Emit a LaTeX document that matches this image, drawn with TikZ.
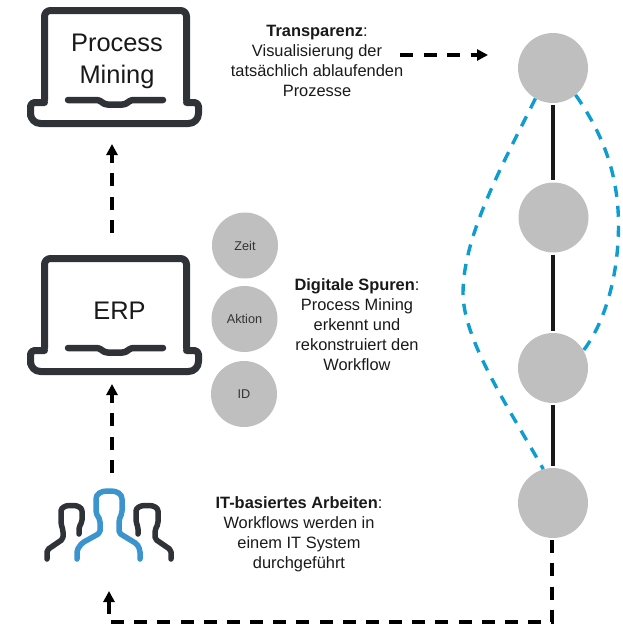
\documentclass[tikz,border=0pt]{standalone}
\usepackage{fontspec}
\setmainfont{Liberation Sans}
\usetikzlibrary{arrows.meta}
\definecolor{dark}{HTML}{2F3338}
\definecolor{peopleblue}{HTML}{3C94CF}
\definecolor{flowblue}{HTML}{0F9CCF}
\definecolor{stepgray}{HTML}{BFBFBF}
\tikzset{
  x=1pt,y=-1pt,
  stepnode/.style={circle,fill=stepgray,draw=none,minimum size=70pt,inner sep=0pt},
  attr/.style={circle,fill=stepgray,draw=none,minimum size=66pt,inner sep=0pt,font=\fontsize{12.7}{15}\selectfont,text=black!80},
  desc/.style={align=center,font=\fontsize{16.4}{19.9}\selectfont,inner sep=0pt,text=black!90},
  lap/.style={align=center,font=\fontsize{25.4}{32}\selectfont,inner sep=0pt,text=black!90},
  solidline/.style={line width=3.4pt,black!90},
  flowarrow/.style={line width=3.4pt,black,dash pattern=on 13pt off 10.5pt,-{Triangle[length=11pt,width=11pt]}},
  bluedash/.style={line width=3.4pt,flowblue,dash pattern=on 11pt off 9pt},
  laptopline/.style={line width=7pt,dark,line join=round,line cap=round},
  pers/.style={line width=5.5pt,line cap=round,line join=round,rounded corners=2pt}
}
\newcommand{\laptop}[1]{%
  \begin{scope}[yshift=#1]
    \draw[laptopline,rounded corners=6pt] (44.5,100) -- (44.5,10.5) -- (186.5,10.5) -- (186.5,100);
    \draw[laptopline,rounded corners=4pt] (44.5,102.5) -- (30.5,102.5) -- (30.5,112) [rounded corners=10pt] -- (30.5,123.5) -- (198.5,123.5) [rounded corners=4pt] -- (198.5,102.5) -- (186.5,102.5);
    \draw[line width=6.5pt,dark,line cap=round,line join=round,rounded corners=2.5pt] (68,100) -- (99,100) -- (105,104.5) -- (125,104.5) -- (131,100) -- (163,100);
  \end{scope}}
\begin{document}
\begin{tikzpicture}
\useasboundingbox (0,0) rectangle (623,624);
% laptops
\laptop{0pt}
\laptop{-248pt}
\node[lap] (pm) at (117,61.5) {Process\\Mining};
\node[lap] (erp) at (119.5,311) {ERP};
% people
\draw[pers,dark] (47,559) -- (47,550) -- (63,539) -- (63,530) -- (61,524) -- (61,513) .. controls (61,508) and (65,505.5) .. (71.5,505.5) .. controls (78,505.5) and (82,508) .. (82,513) -- (82,522) -- (79,527) -- (79,534);
\draw[pers,dark] (138,534) -- (138,527) -- (136,522) -- (136,513) .. controls (136,508) and (140,505.5) .. (147,505.5) .. controls (154,505.5) and (158,508) .. (158,513) -- (158,524) -- (155,530) -- (155,539) -- (171,550) -- (171,559);
\draw[pers,peopleblue] (77,559) -- (77,550) -- (82,543) -- (100,533) -- (100,520) -- (96,513) -- (96,501) .. controls (96,494) and (101,491) .. (109,491) .. controls (117,491) and (122,494) .. (122,501) -- (122,513) -- (119,520) -- (119,533) -- (137,544) -- (140,550) -- (140,559);
% attribute circles
\node[attr] (zeit) at (245,245.5) {Zeit};
\node[attr] (aktion) at (244.5,319) {Aktion};
\node[attr] (id) at (244,394) {ID};
% process nodes
\node[stepnode] (a) at (553,68) {};
\node[stepnode] (b) at (553.5,217.5) {};
\node[stepnode] (c) at (553,368) {};
\node[stepnode] (d) at (553,503) {};
\draw[solidline] ([yshift=-2pt]a.south) -- ([yshift=2pt]a.south |- b.north);
\draw[solidline] ([yshift=-2pt]a.south |- b.south) -- ([yshift=2pt]a.south |- c.north);
\draw[solidline] ([yshift=-2pt]c.south) -- ([yshift=2pt]d.north);
% blue paths
\draw[bluedash] (a.240) .. controls (505,160) and (463,235) .. (463,293) .. controls (463,340) and (510,410) .. (d.106);
\draw[bluedash] (a.-50) .. controls (600,130) and (618.5,170) .. (618.5,225) .. controls (618.5,280) and (603,325) .. (c.30);
% texts
\node[desc] (t1) at (317,61) {\textbf{Transparenz}:\\Visualisierung der\\tatsächlich ablaufenden\\Prozesse};
\node[desc] (t2) at (357,324.5) {\textbf{Digitale Spuren}:\\Process Mining\\erkennt und\\rekonstruiert den\\Workflow};
\node[desc] (t3) at (299,534.5) {\textbf{IT-basiertes Arbeiten}:\\Workflows werden in\\einem IT System\\durchgeführt};
% arrows
\coordinate (s1) at (400,55);
\coordinate (e1) at (488,55);
\draw[flowarrow] (s1) -- (e1);
\coordinate (s2) at (112,233);
\coordinate (e2) at (112,144);
\draw[flowarrow] (s2) -- (e2);
\coordinate (s3) at (112,473);
\coordinate (e3) at (112,384);
\draw[flowarrow] (s3) -- (e3);
\coordinate (corner) at (552,622);
\coordinate (bend) at (109,622);
\coordinate (e4) at (109,591);
\draw[flowarrow,dash pattern=on 13pt off 10.17pt] ([xshift=-1pt,yshift=-2pt]d.south) -- (corner) -- (bend) -- (e4);
\end{tikzpicture}
\end{document}
